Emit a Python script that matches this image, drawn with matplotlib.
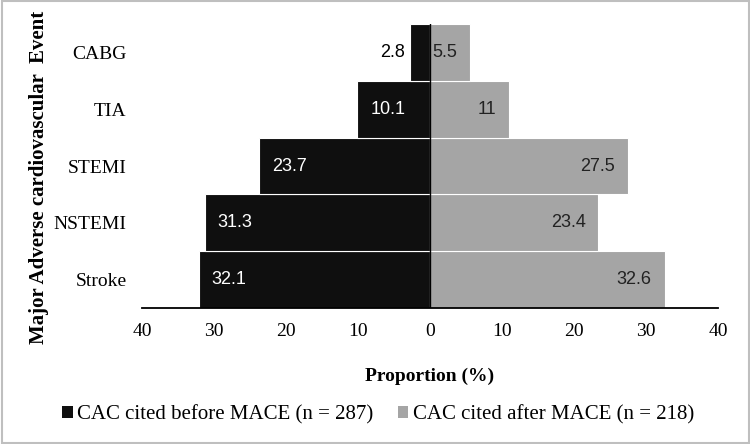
import matplotlib.pyplot as plt
from matplotlib.patches import Patch, Rectangle

events = ["Stroke", "NSTEMI", "STEMI", "TIA", "CABG"]
before = [32.1, 31.3, 23.7, 10.1, 2.8]
after = [32.6, 23.4, 27.5, 11, 5.5]
before_name = "CAC cited before MACE (n = 287)"
after_name = "CAC cited after MACE (n = 218)"
ticks = [-40, -30, -20, -10, 0, 10, 20, 30, 40]

black = "#0f0f0f"
grey = "#a5a5a5"
serif = "Liberation Serif"
sans = "Liberation Sans"

fig = plt.figure(figsize=(7.5, 4.44), dpi=100)
ax = fig.add_axes([142 / 750, 1 - 308 / 444, 576 / 750, 284 / 444])

y = list(range(len(events)))
ax.barh(y, [-v for v in before], height=1.0, color=black, edgecolor="white", linewidth=0.8)
ax.barh(y, after, height=1.0, color=grey, edgecolor="white", linewidth=0.8)
ax.axvline(0, color="black", linewidth=1)

# data labels
pad = 1.8
for i, v in enumerate(before):
    if v < 5:
        ax.text(-v - 0.7, i, f"{v:g}", ha="right", va="center", color="black",
                fontsize=13, family=sans)
    else:
        ax.text(-v + pad, i, f"{v:g}", ha="left", va="center", color="white",
                fontsize=13, family=sans)
for i, v in enumerate(after):
    if v < 8:
        ax.text(0.3, i, f"{v:g}", ha="left", va="center", color="#222222",
                fontsize=13, family=sans)
    else:
        ax.text(v - pad, i, f"{v:g}", ha="right", va="center", color="#222222",
                fontsize=13, family=sans)

ax.set_xlim(-40, 40)
ax.set_ylim(-0.5, 4.5)
ax.set_xticks(ticks)
ax.set_xticklabels([str(abs(t)) for t in ticks], family=serif, fontsize=14)
ax.set_yticks(y)
ax.set_yticklabels(events, family=serif, fontsize=14)
ax.tick_params(axis="x", length=0, pad=11)
ax.tick_params(axis="y", length=0, pad=11)
for s in ["top", "right", "left"]:
    ax.spines[s].set_visible(False)
ax.spines["bottom"].set_linewidth(1.3)

fig.text(430 / 750, 1 - 376 / 444, "Proportion (%)", ha="center", va="center",
         family=serif, fontsize=14, fontweight="bold")
fig.text(39 / 750, 1 - 177 / 444, "Major Adverse cardiovascular  Event", ha="center",
         va="center", rotation=90, family=serif, fontsize=15, fontweight="bold")

handles = [Patch(facecolor=black), Patch(facecolor=grey)]
fig.legend(handles, [before_name, after_name], loc="center", ncol=2,
           bbox_to_anchor=(378 / 750, 1 - 415 / 444), frameon=False,
           prop={"family": serif, "size": 15}, handlelength=0.5, handleheight=0.5,
           handletextpad=0.2, columnspacing=1.2, borderpad=0)

fig.patches.append(Rectangle((0.002, 0.003), 0.996, 0.994, transform=fig.transFigure,
                             fill=False, edgecolor="#bfbfbf", linewidth=1.5))

fig.savefig("out.png", dpi=100)
